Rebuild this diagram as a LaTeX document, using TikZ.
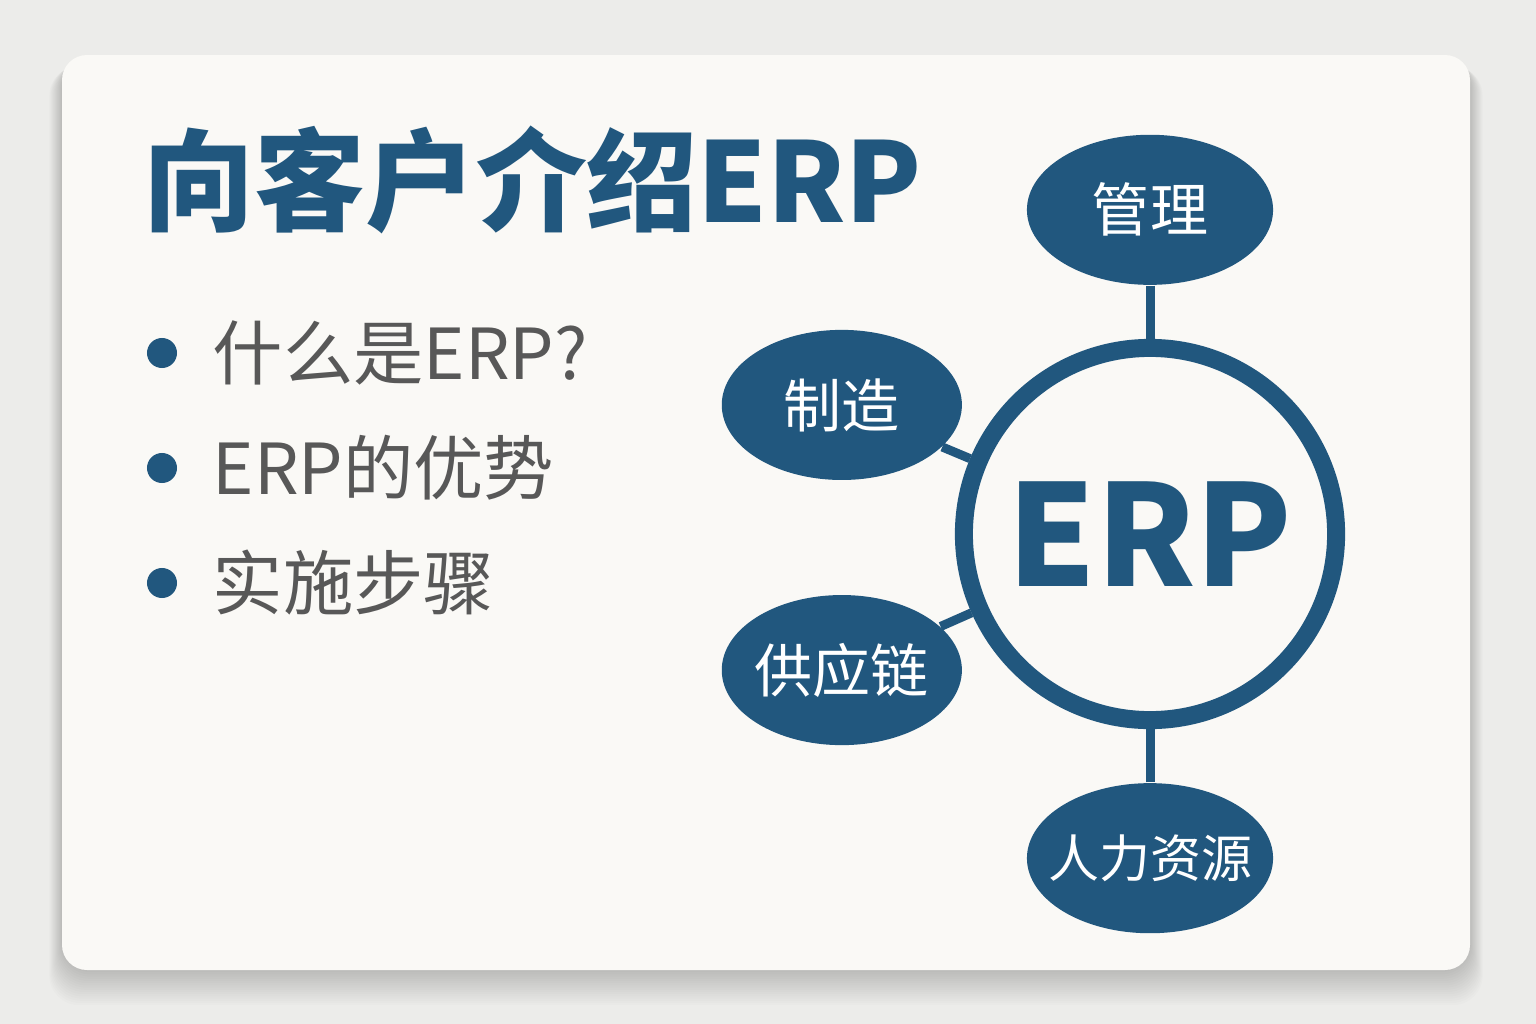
\documentclass[tikz,border=0pt]{standalone}
\usepackage{fontspec}
\setmainfont{Noto Sans CJK SC}
\usetikzlibrary{positioning,shapes.geometric}

\definecolor{erpblue}{RGB}{33,87,126}
\definecolor{bodygray}{RGB}{88,88,88}
\definecolor{cardwhite}{RGB}{250,249,246}
\definecolor{pagegray}{RGB}{236,236,234}

\tikzset{
  topic/.style={ellipse, fill=erpblue, text=white, minimum width=2.46cm,
    minimum height=1.5cm, inner sep=0pt, font=\fontsize{16.5}{18}\selectfont},
  hubring/.style={circle, draw=erpblue, line width=0.18cm, minimum size=3.72cm,
    inner sep=0pt, text=erpblue, font=\fontsize{40}{42}\selectfont\bfseries},
  link/.style={draw=erpblue, line width=0.09cm},
  dot/.style={circle, fill=erpblue, minimum size=0.3cm, inner sep=0pt},
  point/.style={anchor=west, inner sep=0pt, text=bodygray,
    font=\fontsize{20}{24}\selectfont},
}

\begin{document}
\begin{tikzpicture}[x=0.01cm, y=-0.01cm, node distance=3.24cm]
\fill[pagegray] (0,0) rectangle (1536,1024);
\useasboundingbox (0,0) rectangle (1536,1024);
% soft shadow under the card
\foreach \s in {1,...,16}
  \fill[black, opacity=0.01, rounded corners=0.3cm]
    (62-\s*0.8, 58+\s*0.5) rectangle (1470+\s*0.8, 970+\s*2.2);
\fill[cardwhite, rounded corners=0.25cm] (62,55) rectangle (1470,970);

\node (title) [anchor=base west, inner sep=0pt, text=erpblue,
  font=\fontsize{31.5}{34}\selectfont\bfseries] at (143,222) {向客户介绍ERP};

\node (dot1) [dot] at (162,353) {};
\node (dot2) [dot] at (162,468) {};
\node (dot3) [dot] at (162,583) {};
\node (item1) [point] at (212,353) {什么是ERP?};
\node (item2) [point] at (212,468) {ERP的优势};
\node (item3) [point] at (212,583) {实施步骤};

\node (hub) [hubring] at (1150,534) {ERP};
\node (mgmt) [topic, above of=hub] {管理};
\node (hr) [topic, below of=hub, font=\fontsize{14.5}{16}\selectfont] {\makebox[0pt]{人力资源}};
\node (make) [topic, left of=hub, xshift=0.16cm, yshift=1.29cm, minimum width=2.4cm] {制造};
\node (supply) [topic, left of=hub, xshift=0.16cm, yshift=-1.36cm, minimum width=2.4cm] {\makebox[0pt]{供应链}};

\draw[link] (mgmt) -- (hub);
\draw[link] (make) -- (hub);
\draw[link] (supply) -- (hub);
\draw[link] (hr) -- (hub);
\end{tikzpicture}
\end{document}
